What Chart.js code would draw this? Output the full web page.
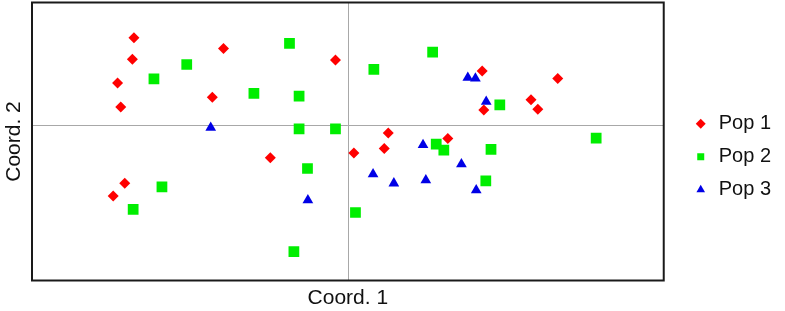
<!DOCTYPE html>
<html>
<head>
<meta charset="utf-8">
<script src="https://cdn.jsdelivr.net/npm/chart.js@4/dist/chart.umd.min.js"></script>
<style>
html,body{margin:0;padding:0;background:#fff;}
#wrap{width:785px;height:311px;position:relative;}
</style>
</head>
<body>
<div id="wrap"><canvas id="c" width="785" height="311"></canvas></div>
<script>
// Data (PCoA coordinates)
const seriesNames = ["Pop 1", "Pop 2", "Pop 3"];
const axisTitles = ["Coord. 1", "Coord. 2"];

const pop1X = [-0.537,-0.541,-0.578,-0.570,-0.313,-0.341,-0.033,0.334,0.523,0.456,0.473,0.338,-0.196,-0.560,-0.589,0.013,0.099,0.089,0.248];
const pop1Y = [0.219,0.165,0.106,0.046,0.192,0.070,0.163,0.136,0.117,0.064,0.040,0.038,-0.081,-0.145,-0.177,-0.069,-0.019,-0.058,-0.033];

const pop2X = [-0.148,-0.405,-0.487,-0.237,-0.124,-0.124,-0.033,0.210,0.063,0.378,0.619,-0.103,-0.467,-0.539,-0.137,0.219,0.238,0.356,0.343,0.017];
const pop2Y = [0.205,0.152,0.116,0.080,0.073,-0.009,-0.009,0.183,0.140,0.051,-0.032,-0.108,-0.154,-0.210,-0.316,-0.047,-0.062,-0.060,-0.139,-0.218];

const pop3X = [-0.345,0.298,0.317,0.344,-0.102,0.186,0.061,0.113,0.193,0.282,0.319];
const pop3Y = [-0.006,0.119,0.117,0.059,-0.187,-0.049,-0.122,-0.145,-0.137,-0.097,-0.162];

const xRange = [-0.792, 0.788];
const yRange = [-0.388, 0.307];

function pts(xs, ys){ return xs.map((x,i)=>({x:x, y:ys[i]})); }

const FONT = "'Liberation Sans', Arial, sans-serif";

const frame = {
  id: 'frame',
  afterDraw(chart){
    const {ctx, chartArea:a} = chart;
    ctx.save();
    ctx.strokeStyle = '#1a1a1a';
    ctx.lineWidth = 2;
    ctx.strokeRect(a.left, a.top, a.right - a.left, a.bottom - a.top);
    ctx.restore();
  }
};

new Chart(document.getElementById('c'), {
  type: 'scatter',
  data: {
    datasets: [
      {label: seriesNames[0], data: pts(pop1X, pop1Y), pointStyle: 'rectRot', pointRadius: 5.5, backgroundColor: '#ff0000', borderColor: '#ff0000', borderWidth: 0},
      {label: seriesNames[1], data: pts(pop2X, pop2Y), pointStyle: 'rect', pointRadius: 7.6, backgroundColor: '#00ee00', borderColor: '#00ee00', borderWidth: 0},
      {label: seriesNames[2], data: pts(pop3X, pop3Y), pointStyle: 'triangle', pointRadius: 6.2, backgroundColor: '#0000e6', borderColor: '#0000e6', borderWidth: 0}
    ]
  },
  options: {
    responsive: false,
    animation: false,
    layout: {autoPadding: false, padding: {top: 2.5, right: 4, bottom: 0, left: 0}},
    plugins: {
      tooltip: {enabled: false},
      legend: {
        position: 'right',
        align: 'center',
        labels: {
          usePointStyle: true,
          boxWidth: 16,
          boxHeight: 7,
          padding: 13,
          color: '#111',
          font: {family: FONT, size: 20}
        }
      }
    },
    scales: {
      x: {
        type: 'linear', min: xRange[0], max: xRange[1],
        afterBuildTicks: s => { s.ticks = [{value: 0}]; },
        afterFit: s => { s.height = 30.5; },
        ticks: {display: false},
        border: {display: false},
        grid: {drawTicks: false, color: '#a8a8a8', lineWidth: 1},
        title: {display: true, text: axisTitles[0], color: '#111', font: {family: FONT, size: 21}, padding: {top: 6, bottom: 0}}
      },
      y: {
        type: 'linear', min: yRange[0], max: yRange[1],
        afterBuildTicks: s => { s.ticks = [{value: 0}]; },
        afterFit: s => { s.width = 32; },
        ticks: {display: false},
        border: {display: false},
        grid: {drawTicks: false, color: '#a8a8a8', lineWidth: 1},
        title: {display: true, text: axisTitles[1], color: '#111', font: {family: FONT, size: 21}, padding: {top: 2, bottom: 4}}
      },
      gap: {
        type: 'linear', position: 'right', display: true,
        afterFit: s => { s.width = 16; },
        ticks: {display: false},
        border: {display: false},
        grid: {display: false, drawTicks: false}
      }
    }
  },
  plugins: [frame]
});
</script>
</body>
</html>
